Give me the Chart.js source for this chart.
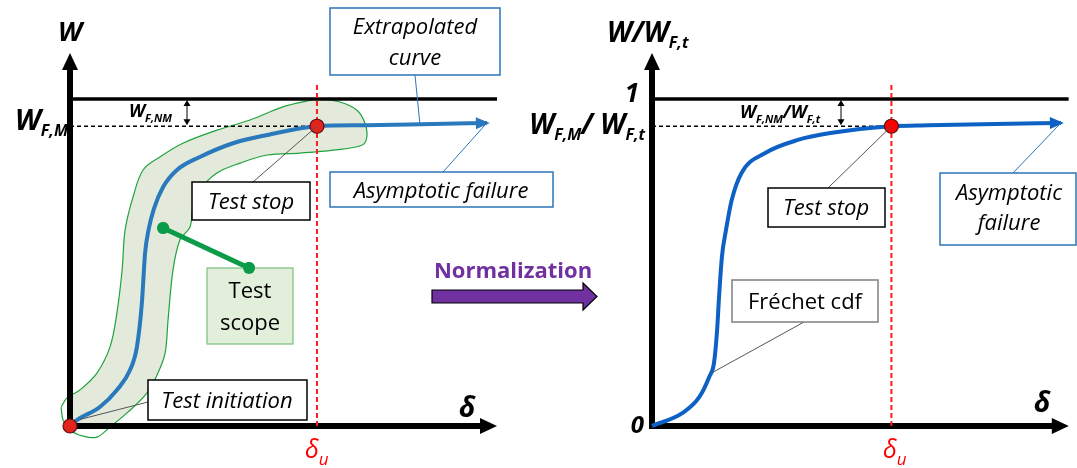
<!DOCTYPE html>
<html>
<head>
<meta charset="utf-8">
<script src="https://cdn.jsdelivr.net/npm/chart.js@4.4.0/dist/chart.umd.min.js"></script>
<style>
  html, body { margin: 0; padding: 0; background: #fff; }
  #wrap { position: relative; width: 1077px; height: 468px; }
  canvas { position: absolute; left: 0; top: 0; }
</style>
</head>
<body>
<div id="wrap">
  <canvas id="left" width="1077" height="468"></canvas>
  <canvas id="right" width="1077" height="468"></canvas>
</div>
<script>
// x = delta / delta_u, y = W / W_F,t
const deltaU = 1;
const wFM = 0.917;
const topLevel = 1;
const leftXMax = 1.729, rightXMax = 1.741, yMax = 1.141;
const markerTop = 1.052;

const leftCurveX = [0, 0.028, 0.121, 0.190, 0.243, 0.271, 0.291, 0.304, 0.318, 0.340, 0.377, 0.433, 0.526, 0.660, 0.798, 1.0, 1.202, 1.470, 1.688];
const leftCurveY = [0, 0.018, 0.058, 0.110, 0.171, 0.242, 0.376, 0.529, 0.600, 0.665, 0.731, 0.783, 0.823, 0.865, 0.890, 0.917, 0.920, 0.924, 0.927];

const rightCurveX = [0, 0.128, 0.198, 0.239, 0.259, 0.272, 0.280, 0.292, 0.309, 0.333, 0.374, 0.473, 0.609, 0.745, 1.0, 1.156, 1.432, 1.708];
const rightCurveY = [0, 0.040, 0.089, 0.150, 0.193, 0.294, 0.394, 0.517, 0.599, 0.691, 0.774, 0.835, 0.875, 0.896, 0.917, 0.920, 0.924, 0.927];

// test scope envelope (closed outline)
const scopeX = [-0.036, -0.012, 0.040, 0.109, 0.162, 0.190, 0.211, 0.223, 0.255, 0.296, 0.364, 0.457, 0.595, 0.729, 0.862, 0.960, 1.012, 1.093, 1.162, 1.194, 1.202, 1.182, 1.065, 0.931, 0.798, 0.688, 0.595, 0.526, 0.498, 0.486, 0.445, 0.417, 0.397, 0.385, 0.356, 0.312, 0.231, 0.162, 0.109, 0.053, 0, -0.028, -0.036];
const scopeY = [0.058, 0.086, 0.110, 0.162, 0.242, 0.346, 0.477, 0.599, 0.700, 0.783, 0.823, 0.865, 0.905, 0.936, 0.976, 0.994, 1.0, 0.991, 0.966, 0.927, 0.884, 0.859, 0.844, 0.835, 0.829, 0.804, 0.774, 0.722, 0.670, 0.609, 0.569, 0.477, 0.324, 0.223, 0.162, 0.101, 0.040, -0.003, -0.034, -0.031, -0.012, 0.018, 0.058];

const scopeLineX = [0.377, 0.725];
const scopeLineY = [0.606, 0.483];

const pts = (xs, ys) => xs.map((x, i) => ({ x: x, y: ys[i] }));

const FONT = '"Open Sans", Lato, sans-serif';
const BI = s => `italic bold ${s}px ${FONT}`;
const IT = s => `italic ${s}px ${FONT}`;
const RG = s => `${s}px ${FONT}`;

function rich(ctx, x, y, parts, align) {
  let w = 0;
  parts.forEach(p => { ctx.font = p.f; p.w = ctx.measureText(p.t).width; w += p.w; });
  let cx = align === 'right' ? x - w : align === 'center' ? x - w / 2 : x;
  parts.forEach(p => {
    ctx.font = p.f;
    ctx.fillStyle = p.c || '#000';
    ctx.fillText(p.t, cx, y + (p.dy || 0));
    cx += p.w;
  });
}

function box(ctx, x1, y1, x2, y2, stroke, fill, lw) {
  ctx.save();
  ctx.fillStyle = fill || '#fff';
  ctx.fillRect(x1, y1, x2 - x1, y2 - y1);
  ctx.lineWidth = lw || 1.5;
  ctx.strokeStyle = stroke;
  ctx.strokeRect(x1, y1, x2 - x1, y2 - y1);
  ctx.restore();
}

function lines(ctx, x, y, texts, font, gap) {
  ctx.font = font;
  ctx.fillStyle = '#000';
  ctx.textAlign = 'center';
  texts.forEach((t, i) => ctx.fillText(t, x, y + i * gap));
  ctx.textAlign = 'left';
}

function leader(ctx, x1, y1, x2, y2, color) {
  ctx.save();
  ctx.strokeStyle = color || '#404040';
  ctx.lineWidth = 1;
  ctx.beginPath(); ctx.moveTo(x1, y1); ctx.lineTo(x2, y2); ctx.stroke();
  ctx.restore();
}

function drawAxes(chart) {
  const ctx = chart.ctx;
  const { left, right, top, bottom } = chart.chartArea;
  ctx.save();
  ctx.fillStyle = '#000';
  ctx.fillRect(left - 3, top + 14, 6, bottom - top - 11);
  ctx.fillRect(left - 3, bottom - 3, right - left - 12, 6);
  ctx.beginPath();
  ctx.moveTo(left, top); ctx.lineTo(left - 8, top + 17); ctx.lineTo(left + 8, top + 17); ctx.closePath(); ctx.fill();
  ctx.beginPath();
  ctx.moveTo(right, bottom); ctx.lineTo(right - 17, bottom - 8); ctx.lineTo(right - 17, bottom + 8); ctx.closePath(); ctx.fill();
  ctx.restore();
}

function curveHead(ctx, meta, color) {
  const n = meta.data.length;
  const a = meta.data[n - 2], b = meta.data[n - 1];
  const ang = Math.atan2(b.y - a.y, b.x - a.x);
  const tx = b.x + 3 * Math.cos(ang), ty = b.y + 3 * Math.sin(ang);
  ctx.save();
  ctx.translate(tx, ty); ctx.rotate(ang);
  ctx.fillStyle = color;
  ctx.beginPath(); ctx.moveTo(0, 0); ctx.lineTo(-14, -6); ctx.lineTo(-14, 6); ctx.closePath(); ctx.fill();
  ctx.restore();
}

function gapArrow(ctx, x, y1, y2) {
  ctx.save();
  ctx.strokeStyle = '#000'; ctx.fillStyle = '#000'; ctx.lineWidth = 1;
  ctx.beginPath(); ctx.moveTo(x, y1 + 3); ctx.lineTo(x, y2 - 3); ctx.stroke();
  ctx.beginPath(); ctx.moveTo(x, y1 + 1); ctx.lineTo(x - 3.5, y1 + 7); ctx.lineTo(x + 3.5, y1 + 7); ctx.closePath(); ctx.fill();
  ctx.beginPath(); ctx.moveTo(x, y2 - 1); ctx.lineTo(x - 3.5, y2 - 7); ctx.lineTo(x + 3.5, y2 - 7); ctx.closePath(); ctx.fill();
  ctx.restore();
}

function baseDatasets(curve, color, xMax) {
  return [
    { label: 'curve', data: curve, showLine: true, borderColor: color, borderWidth: 4, pointRadius: 0, cubicInterpolationMode: 'monotone', clip: false },
    { label: 'delta_u', data: [{ x: deltaU, y: 0 }, { x: deltaU, y: markerTop }], showLine: true, borderColor: '#ff1a1a', borderWidth: 2, borderDash: [5, 3], pointRadius: 0 },
    { label: 'W_F,M', data: [{ x: 0, y: wFM }, { x: deltaU, y: wFM }], showLine: true, borderColor: '#000', borderWidth: 1.5, borderDash: [4, 3], pointRadius: 0 },
    { label: 'W_F,t', data: [{ x: 0, y: topLevel }, { x: xMax, y: topLevel }], showLine: true, borderColor: '#000', borderWidth: 3.5, pointRadius: 0 }
  ];
}

function baseOptions(pad, xMax) {
  return {
    responsive: false,
    animation: false,
    events: [],
    layout: { padding: pad },
    plugins: { legend: { display: false }, tooltip: { enabled: false } },
    scales: {
      x: { type: 'linear', min: 0, max: xMax, display: false },
      y: { type: 'linear', min: 0, max: yMax, display: false }
    }
  };
}

const leftBlue = '#2a79bd';
const rightBlue = '#0d60c4';
const scopeGreen = '#0c9b48';

const leftDeco = {
  id: 'leftDeco',
  afterDatasetDraw(chart, args) {
    if (args.index === 6) drawAxes(chart);
  },
  afterDatasetsDraw(chart) {
    const ctx = chart.ctx;
    const sx = chart.scales.x, sy = chart.scales.y;
    const px = v => sx.getPixelForValue(v), py = v => sy.getPixelForValue(v);
    const curveMeta = chart.getDatasetMeta(2);
    curveHead(ctx, curveMeta, leftBlue);
    const tip = curveMeta.data[curveMeta.data.length - 1];
    ctx.textBaseline = 'alphabetic';

    // axis labels
    rich(ctx, px(0), 41, [{ t: 'W', f: BI(27) }], 'center');
    rich(ctx, px(0) - 2, py(wFM) + 4, [{ t: 'W', f: BI(29) }, { t: 'F,M', f: BI(16), dy: 6 }], 'right');
    rich(ctx, 129, 117, [{ t: 'W', f: BI(18) }, { t: 'F,NM', f: BI(11), dy: 5 }], 'left');
    gapArrow(ctx, 187, py(topLevel), py(wFM));
    rich(ctx, 459, 417, [{ t: 'δ', f: BI(28) }], 'left');
    rich(ctx, 305, 458, [{ t: 'δ', f: IT(25), c: '#ff0000' }, { t: 'u', f: IT(17), c: '#ff0000', dy: 7 }], 'left');

    // leaders
    leader(ctx, 415, 75, px(1.417), py(0.923), '#2e75b6');
    leader(ctx, 443, 172, tip.x, tip.y, '#2e75b6');
    leader(ctx, 253, 182, px(deltaU), py(wFM), '#555');
    leader(ctx, 148, 402, px(0.04), py(0.02), '#555');

    // boxes
    box(ctx, 330, 8, 500, 75, '#2e75b6');
    lines(ctx, 415, 34, ['Extrapolated', 'curve'], IT(22), 31);
    box(ctx, 330, 172, 553, 207, '#2e75b6');
    lines(ctx, 441, 198, ['Asymptotic failure'], IT(22), 0);
    box(ctx, 192, 182, 310, 220, '#000');
    lines(ctx, 251, 209, ['Test stop'], IT(22), 0);
    box(ctx, 207, 268, 293, 344, '#7cc07f', '#e2efda', 1.2);
    lines(ctx, 250, 298, ['Test', 'scope'], RG(22), 32);
    box(ctx, 148, 380, 307, 420, '#000');
    lines(ctx, 227, 408, ['Test initiation'], IT(22), 0);

    // scope marker dots stay on top of the box
    const sm = chart.getDatasetMeta(1);
    ctx.save();
    ctx.fillStyle = scopeGreen;
    sm.data.forEach(p => { ctx.beginPath(); ctx.arc(p.x, p.y, 6, 0, Math.PI * 2); ctx.fill(); });
    ctx.restore();
  }
};

new Chart(document.getElementById('left'), {
  type: 'scatter',
  data: {
    datasets: [
      { label: 'points', data: [{ x: 0, y: 0 }, { x: deltaU, y: wFM }], pointRadius: 7, pointBackgroundColor: '#e3241c', pointBorderColor: '#5a1010', pointBorderWidth: 1.2, clip: false },
      { label: 'scope link', data: pts(scopeLineX, scopeLineY), showLine: true, borderColor: scopeGreen, borderWidth: 5, pointRadius: 6, pointBackgroundColor: scopeGreen, pointBorderWidth: 0 },
      ...baseDatasets(pts(leftCurveX, leftCurveY), leftBlue, leftXMax),
      { label: 'scope', data: pts(scopeX, scopeY), showLine: true, fill: 'shape', tension: 0.35, borderColor: '#1ea33c', borderWidth: 1.2, backgroundColor: '#e3eadb', pointRadius: 0, clip: false }
    ]
  },
  options: baseOptions({ left: 70, right: 580, top: 53, bottom: 42 }, leftXMax),
  plugins: [leftDeco]
});

const rightDeco = {
  id: 'rightDeco',
  beforeDatasetsDraw(chart) {
    drawAxes(chart);
  },
  afterDatasetsDraw(chart) {
    const ctx = chart.ctx;
    const sx = chart.scales.x, sy = chart.scales.y;
    const px = v => sx.getPixelForValue(v), py = v => sy.getPixelForValue(v);
    const curveMeta = chart.getDatasetMeta(1);
    curveHead(ctx, curveMeta, rightBlue);
    const tip = curveMeta.data[curveMeta.data.length - 1];
    ctx.textBaseline = 'alphabetic';

    rich(ctx, 607, 42, [{ t: 'W/W', f: BI(28) }, { t: 'F,t', f: BI(16), dy: 6 }], 'left');
    rich(ctx, 639, 102, [{ t: '1', f: BI(26) }], 'right');
    rich(ctx, 645, py(wFM) + 8, [{ t: 'W', f: BI(28) }, { t: 'F,M', f: BI(16), dy: 6 }, { t: '/ W', f: BI(28) }, { t: 'F,t', f: BI(16), dy: 6 }], 'right');
    rich(ctx, 740, 118, [{ t: 'W', f: BI(18) }, { t: 'F,NM', f: BI(11), dy: 5 }, { t: '/W', f: BI(18) }, { t: 'F,t', f: BI(11), dy: 5 }], 'left');
    gapArrow(ctx, 841, py(topLevel), py(wFM));
    rich(ctx, 644, 433, [{ t: '0', f: BI(24) }], 'right');
    rich(ctx, 1034, 412, [{ t: 'δ', f: BI(28) }], 'left');
    rich(ctx, 883, 458, [{ t: 'δ', f: IT(25), c: '#ff0000' }, { t: 'u', f: IT(17), c: '#ff0000', dy: 7 }], 'left');

    leader(ctx, 828, 188, px(deltaU), py(wFM), '#555');
    leader(ctx, 1013, 173, tip.x, tip.y, '#2e75b6');
    leader(ctx, 804, 322, px(0.251), py(0.163), '#555');

    box(ctx, 768, 188, 885, 227, '#000');
    lines(ctx, 826, 215, ['Test stop'], IT(22), 0);
    box(ctx, 940, 173, 1076, 245, '#2e75b6');
    lines(ctx, 1009, 200, ['Asymptotic', 'failure'], IT(22), 30);
    box(ctx, 732, 280, 878, 322, '#7f7f7f');
    lines(ctx, 805, 309, ['Fréchet cdf'], RG(22), 0);

    // normalization arrow between panels
    ctx.save();
    ctx.font = `bold 22px ${FONT}`;
    ctx.fillStyle = '#7030a0';
    ctx.textAlign = 'center';
    ctx.fillText('Normalization', 513, 278);
    ctx.beginPath();
    ctx.moveTo(432, 290); ctx.lineTo(583, 290); ctx.lineTo(583, 283); ctx.lineTo(597, 296.5);
    ctx.lineTo(583, 310); ctx.lineTo(583, 303); ctx.lineTo(432, 303); ctx.closePath();
    ctx.fill();
    ctx.strokeStyle = '#000'; ctx.lineWidth = 1.2; ctx.stroke();
    ctx.restore();
  }
};

new Chart(document.getElementById('right'), {
  type: 'scatter',
  data: {
    datasets: [
      { label: 'stop', data: [{ x: deltaU, y: wFM }], pointRadius: 7, pointBackgroundColor: '#ff0000', pointBorderColor: '#5a1010', pointBorderWidth: 1.2, clip: false },
      ...baseDatasets(pts(rightCurveX, rightCurveY), rightBlue, rightXMax)
    ]
  },
  options: baseOptions({ left: 652, right: 2, top: 53, bottom: 42 }, rightXMax),
  plugins: [rightDeco]
});
</script>
</body>
</html>
